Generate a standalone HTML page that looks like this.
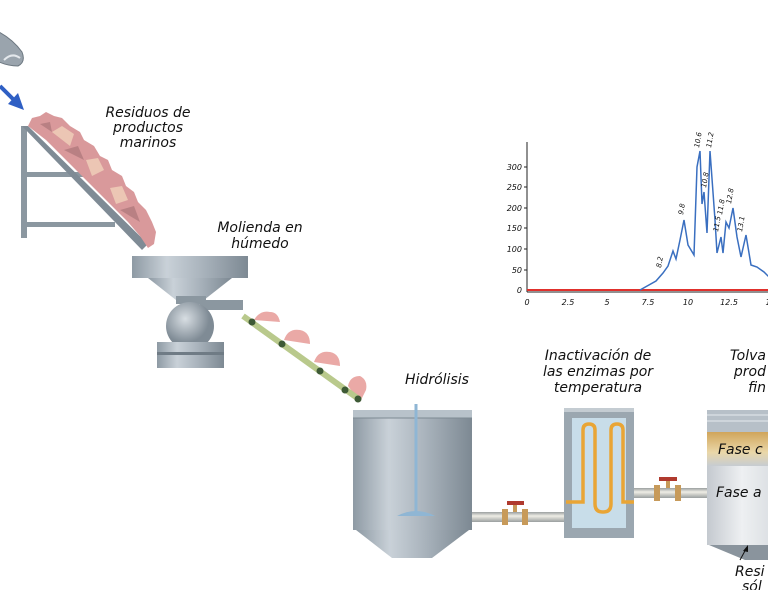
<!DOCTYPE html>
<html><head><meta charset="utf-8"><style>
html,body{margin:0;padding:0;background:#fff;width:768px;height:590px;overflow:hidden}
svg text{font-family:"DejaVu Sans","Liberation Sans",sans-serif;font-style:italic;fill:#111}
</style></head><body>
<svg width="768" height="590" viewBox="0 0 768 590" xmlns="http://www.w3.org/2000/svg">
<defs>
<linearGradient id="steel" x1="0" x2="1"><stop offset="0" stop-color="#8e9aa4"/><stop offset=".3" stop-color="#c9d1d8"/><stop offset=".6" stop-color="#aab4bd"/><stop offset="1" stop-color="#7d8993"/></linearGradient>
<linearGradient id="tolva" x1="0" x2="1"><stop offset="0" stop-color="#c4c9cf"/><stop offset=".5" stop-color="#eef0f2"/><stop offset="1" stop-color="#d8dce0"/></linearGradient>
<radialGradient id="ball" cx=".4" cy=".35"><stop offset="0" stop-color="#d8dee3"/><stop offset="1" stop-color="#7f8b95"/></radialGradient>
<linearGradient id="pipe" x1="0" y1="0" x2="0" y2="1"><stop offset="0" stop-color="#9a9f9f"/><stop offset=".4" stop-color="#efeee6"/><stop offset="1" stop-color="#9a9f9f"/></linearGradient>
<linearGradient id="gold" x1="0" y1="0" x2="0" y2="1"><stop offset="0" stop-color="#d0a55a"/><stop offset=".6" stop-color="#ead7a8"/><stop offset="1" stop-color="#c6ccd2"/></linearGradient>
</defs>

<!-- fish -->
<path d="M-5,30 Q12,38 22,52 Q26,62 18,66 Q6,66 -5,60 Z" fill="#9aa4ad" stroke="#6c7780"/>
<path d="M4,60 Q12,52 20,58" fill="none" stroke="#e4e8ec" stroke-width="2"/>
<!-- blue arrow -->
<line x1="0" y1="86" x2="15" y2="101" stroke="#2f5fc4" stroke-width="4"/>
<polygon points="24,110 8,104 18,93" fill="#2f5fc4"/>

<!-- ramp frame -->
<rect x="21" y="126" width="6" height="112" fill="#8b97a0"/>
<rect x="27" y="172" width="72" height="5" fill="#8b97a0"/>
<rect x="27" y="222" width="88" height="5" fill="#8b97a0"/>
<polygon points="22,126 28,126 148,244 142,250" fill="#7f8b95"/>
<!-- debris -->
<path d="M28,126 L32,118 L40,116 L46,112 L54,116 L62,118 L70,126 L80,132 L84,140 L94,146 L100,156 L108,160 L112,170 L122,176 L126,186 L134,192 L138,202 L146,210 L152,222 L156,232 L154,244 L148,248 L140,236 L128,222 L116,210 L102,196 L88,182 L74,168 L60,154 L46,140 Z" fill="#d9999b"/>
<path d="M52,132 L62,126 L74,134 L70,146 Z M86,160 L98,158 L104,170 L92,176 Z M110,188 L122,186 L128,200 L116,204 Z" fill="#ecc6b4"/>
<path d="M64,150 L78,146 L84,160 Z M120,210 L134,206 L140,222 Z M40,124 L50,122 L52,132 Z" fill="#b98083"/>

<text x="148" y="117" font-size="14" text-anchor="middle">Residuos de</text>
<text x="148" y="132" font-size="14" text-anchor="middle">productos</text>
<text x="148" y="147" font-size="14" text-anchor="middle">marinos</text>

<!-- grinder -->
<rect x="132" y="256" width="116" height="22" fill="url(#steel)"/>
<polygon points="148,278 232,278 204,300 176,300" fill="url(#steel)"/>
<rect x="176" y="296" width="30" height="8" fill="#8b97a0"/>
<rect x="200" y="300" width="43" height="10" fill="#8b97a0"/>
<circle cx="190" cy="326" r="24" fill="url(#ball)"/>
<rect x="157" y="342" width="67" height="26" fill="url(#steel)"/>
<rect x="157" y="352" width="67" height="3" fill="#6f7b85"/>

<text x="260" y="232" font-size="14" text-anchor="middle">Molienda en</text>
<text x="260" y="248" font-size="14" text-anchor="middle">húmedo</text>

<!-- conveyor -->
<path d="M254,320 q6,-10 16,-8 q8,0 10,10 z M284,340 q4,-12 16,-10 q10,2 10,14 z M314,362 q4,-12 16,-10 q10,2 10,14 z M348,386 q2,-10 12,-10 q8,4 6,14 l-6,12 z" fill="#eaa9a6"/>
<line x1="243" y1="316" x2="360" y2="400" stroke="#b9c98c" stroke-width="6"/>
<g fill="#3e5a36"><circle cx="252" cy="322" r="3.5"/><circle cx="282" cy="344" r="3.5"/><circle cx="320" cy="371" r="3.5"/><circle cx="345" cy="390" r="3.5"/><circle cx="358" cy="399" r="3.5"/></g>

<!-- chart -->
<g font-size="8">
<line x1="527" y1="142" x2="527" y2="292" stroke="#222"/>
<line x1="527" y1="292" x2="768" y2="292" stroke="#222"/>
<line x1="527" y1="290" x2="768" y2="290" stroke="#e0302c" stroke-width="2"/>
<g text-anchor="end"><text x="522" y="170">300</text><text x="522" y="190">250</text><text x="522" y="211">200</text><text x="522" y="231">150</text><text x="522" y="252">100</text><text x="522" y="273">50</text><text x="522" y="293">0</text></g>
<g stroke="#222"><line x1="524" y1="167" x2="527" y2="167"/><line x1="524" y1="187" x2="527" y2="187"/><line x1="524" y1="208" x2="527" y2="208"/><line x1="524" y1="228" x2="527" y2="228"/><line x1="524" y1="249" x2="527" y2="249"/><line x1="524" y1="270" x2="527" y2="270"/></g>
<g text-anchor="middle"><text x="527" y="305">0</text><text x="568" y="305">2.5</text><text x="607" y="305">5</text><text x="648" y="305">7.5</text><text x="688" y="305">10</text><text x="729" y="305">12.5</text><text x="768" y="305">1</text></g>
<path d="M640,290 L656,281 L663,273 L668,266 L673,251 L676,259 L680,240 L684,220 L688,245 L694,255 L697,167 L700,151 L702,204 L704,192 L707,233 L710,151 L715,220 L717,253 L721,237 L723,253 L726,222 L729,228 L733,208 L737,237 L741,257 L746,235 L751,265 L757,267 L764,272 L770,278" fill="none" stroke="#3a6fc0" stroke-width="1.5"/>
<g font-size="7" fill="#333"><text transform="translate(661,268) rotate(-80)">8.2</text><text transform="translate(683,215) rotate(-80)">9.8</text><text transform="translate(699,148) rotate(-80)">10.6</text><text transform="translate(711,148) rotate(-80)">11.2</text><text transform="translate(706,188) rotate(-80)">10.8</text><text transform="translate(718,232) rotate(-80)">11.5</text><text transform="translate(722,215) rotate(-80)">11.8</text><text transform="translate(731,204) rotate(-80)">12.8</text><text transform="translate(742,232) rotate(-80)">13.1</text></g>
</g>

<!-- hydrolysis tank -->
<text x="437" y="384" font-size="14" text-anchor="middle">Hidrólisis</text>
<rect x="353" y="410" width="119" height="120" fill="url(#steel)"/>
<rect x="353" y="410" width="119" height="8" fill="#b8c2ca"/>
<line x1="353" y1="418" x2="472" y2="418" stroke="#7d8993"/>
<polygon points="356,530 469,530 432,558 392,558" fill="url(#steel)"/>
<line x1="416" y1="404" x2="416" y2="512" stroke="#8fb6d4" stroke-width="3"/>
<path d="M397,516 Q416,506 435,516 Z" fill="#8fb6d4"/>

<!-- pipe 1 -->
<rect x="472" y="512" width="94" height="10" fill="url(#pipe)"/>
<rect x="502" y="509" width="6" height="16" fill="#c79a5a"/><rect x="522" y="509" width="6" height="16" fill="#c79a5a"/>
<rect x="513" y="504" width="4" height="8" fill="#c79a5a"/><rect x="507" y="501" width="17" height="4" fill="#b03a2e"/>

<!-- inactivation -->
<text x="598" y="360" font-size="14" text-anchor="middle">Inactivación de</text>
<text x="598" y="376" font-size="14" text-anchor="middle">las enzimas por</text>
<text x="598" y="392" font-size="14" text-anchor="middle">temperatura</text>
<rect x="564" y="408" width="70" height="130" fill="#9ba7b0"/>
<rect x="564" y="408" width="70" height="4" fill="#c4ccd2"/>
<rect x="572" y="418" width="54" height="110" fill="#c8dde9"/>
<path d="M566,502 L583,502 L583,430 Q583,424 589,424 Q595,424 595,430 L595,504 Q595,512 603,512 Q611,512 611,504 L611,430 Q611,424 617,424 Q623,424 623,430 L623,502 L634,502" fill="none" stroke="#e9a535" stroke-width="3.5"/>

<!-- pipe 2 -->
<rect x="634" y="488" width="76" height="10" fill="url(#pipe)"/>
<rect x="654" y="485" width="6" height="16" fill="#c79a5a"/><rect x="675" y="485" width="6" height="16" fill="#c79a5a"/>
<rect x="666" y="480" width="4" height="8" fill="#c79a5a"/><rect x="659" y="477" width="18" height="4" fill="#b03a2e"/>

<!-- tolva -->
<text x="766" y="360" font-size="14" text-anchor="end">Tolva</text>
<text x="766" y="376" font-size="14" text-anchor="end">prod</text>
<text x="766" y="392" font-size="14" text-anchor="end">fin</text>
<rect x="707" y="410" width="70" height="135" fill="url(#tolva)"/>
<rect x="707" y="410" width="70" height="22" fill="#b7c0c8"/>
<line x1="707" y1="415" x2="768" y2="415" stroke="#e6eaee"/><line x1="707" y1="421" x2="768" y2="421" stroke="#e6eaee"/>
<rect x="707" y="432" width="70" height="34" fill="url(#gold)"/>
<polygon points="709,545 768,545 768,560 745,560" fill="#8a949d"/>
<text x="718" y="454" font-size="14">Fase c</text>
<text x="716" y="497" font-size="14">Fase a</text>
<line x1="740" y1="560" x2="746" y2="549" stroke="#111"/>
<polygon points="748,545 743,551 748,552" fill="#111"/>
<text x="735" y="576" font-size="14">Resi</text>
<text x="742" y="591" font-size="14">sól</text>
</svg>
</body></html>
